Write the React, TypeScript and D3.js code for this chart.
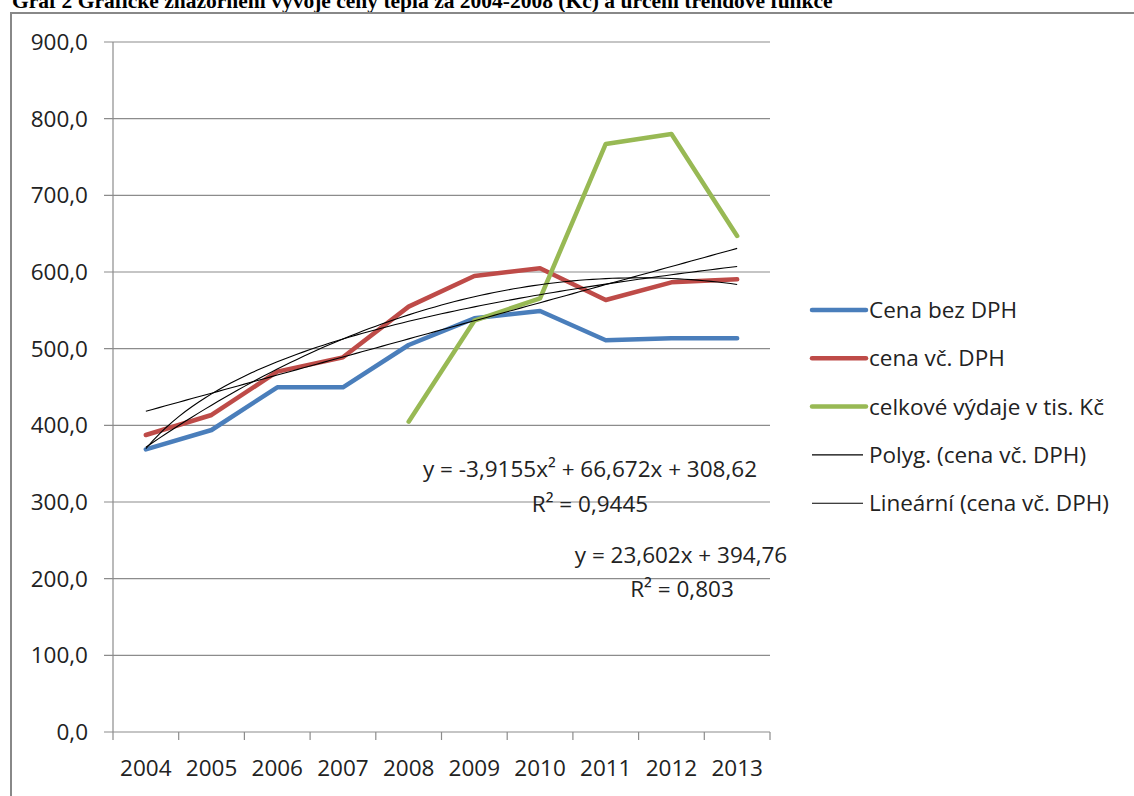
import React from 'react';
import * as d3 from 'd3';

const years = ['2004', '2005', '2006', '2007', '2008', '2009', '2010', '2011', '2012', '2013'];
const cenaBezDPH = [368.7, 393.9, 449.6, 449.6, 504.8, 539.6, 549.1, 510.9, 513.5, 513.5];
const cenaVcDPH = [387.4, 413.5, 470.0, 488.7, 554.8, 594.8, 604.8, 563.5, 586.5, 590.4];
const celkoveVydaje: (number | null)[] = [null, null, null, null, 404.8, 536.5, 565.7, 767.0, 780.0, 647.0];
const yTicks = [0, 100, 200, 300, 400, 500, 600, 700, 800, 900];
const polyCoef = [-3.9155, 66.672, 308.62];
const linCoef = [23.602, 394.76];
const polyLabel = ['y = -3,9155x² + 66,672x + 308,62', 'R² = 0,9445'];
const linLabel = ['y = 23,602x + 394,76', 'R² = 0,803'];
const legendNames = ['Cena bez DPH', 'cena vč. DPH', 'celkové výdaje v tis. Kč', 'Polyg. (cena vč. DPH)', 'Lineární (cena vč. DPH)'];
const title = 'Graf 2  Grafické znázornění vývoje ceny tepla za 2004-2008 (Kč) a určení trendové funkce';

const COLORS = ['#4A7EBB', '#BE4B48', '#98B954', '#000000', '#000000'];
const FONT = "'Open Sans', sans-serif";

// logarithmic least-squares fit on cena vč. DPH
function logFit(vals: number[]) {
  const xs = vals.map((_, i) => Math.log(i + 1));
  const mx = d3.mean(xs)!;
  const my = d3.mean(vals)!;
  let num = 0, den = 0;
  xs.forEach((x, i) => { num += (x - mx) * (vals[i] - my); den += (x - mx) * (x - mx); });
  const a = num / den;
  return { a, b: my - a * mx };
}

export default function App() {
  const left = 113, right = 770, top = 42, bottom = 732;
  const x = d3.scaleBand<string>().domain(years).range([left, right]).padding(0);
  const y = d3.scaleLinear().domain([0, 900]).range([bottom, top]);
  const bw = x.bandwidth();
  const cx = (i: number) => x(years[i])! + bw / 2;

  const line = d3.line<[number, number | null]>()
    .defined(d => d[1] !== null)
    .x(d => d[0])
    .y(d => y(d[1] as number));

  const series = [cenaBezDPH, cenaVcDPH, celkoveVydaje];

  const tSamples = d3.range(1, 10.001, 0.1);
  const tx = (t: number) => cx(0) + (t - 1) * bw;
  const lf = logFit(cenaVcDPH);
  const trendFns = [
    (t: number) => polyCoef[0] * t * t + polyCoef[1] * t + polyCoef[2],
    (t: number) => linCoef[0] * t + linCoef[1],
    (t: number) => lf.a * Math.log(t) + lf.b,
  ];

  const legendY0 = 310, legendStep = 48.3;

  return (
    <svg width={1134} height={796} style={{ position: 'absolute', left: 0, top: 0, background: '#fff' }}>
      <rect x={0} y={0} width={1134} height={796} fill="#fff" />
      <text x={12} y={8} fontFamily="'Liberation Serif', 'Times New Roman', serif" fontWeight="bold" fontSize={21.5} fill="#000">{title}</text>
      <path d={`M11,796 V13 H1134`} fill="none" stroke="#888" strokeWidth={2} />

      {/* grid */}
      {yTicks.map(v => (
        <g key={v}>
          <line x1={left - 9} x2={right} y1={y(v)} y2={y(v)} stroke="#8c8c8c" strokeWidth={1.2} />
          <text x={88} y={y(v) + 8} textAnchor="end" fontFamily={FONT} fontSize={22.5} fill="#222">{d3.format('.1f')(v).replace('.', ',')}</text>
        </g>
      ))}
      <line x1={left} x2={left} y1={top} y2={bottom} stroke="#8c8c8c" strokeWidth={1.2} />
      {d3.range(years.length + 1).map(i => (
        <line key={i} x1={left + i * bw} x2={left + i * bw} y1={bottom} y2={bottom + 8} stroke="#8c8c8c" strokeWidth={1.2} />
      ))}
      {years.map((yr, i) => (
        <text key={yr} x={cx(i)} y={bottom + 44} textAnchor="middle" fontFamily={FONT} fontSize={22.5} fill="#222">{yr}</text>
      ))}

      {/* series */}
      {series.map((s, k) => (
        <path key={k} d={line(s.map((v, i) => [cx(i), v]))!} fill="none" stroke={COLORS[k]} strokeWidth={4.5} strokeLinejoin="round" strokeLinecap="round" />
      ))}

      {/* trend lines */}
      {trendFns.map((f, k) => (
        <path key={k} d={d3.line<number>().x(t => tx(t)).y(t => y(f(t)))(tSamples)!} fill="none" stroke="#000" strokeWidth={1.1} />
      ))}

      {/* equations */}
      <g fontFamily={FONT} fontSize={22.5} fill="#222" textAnchor="middle">
        <text x={590} y={477}>{polyLabel[0]}</text>
        <text x={590} y={512}>{polyLabel[1]}</text>
        <text x={681} y={563}>{linLabel[0]}</text>
        <text x={682} y={597}>{linLabel[1]}</text>
      </g>

      {/* legend */}
      {legendNames.map((n, i) => (
        <g key={n}>
          <line x1={812} x2={i < 3 ? 866 : 863} y1={legendY0 + i * legendStep} y2={legendY0 + i * legendStep}
            stroke={COLORS[i]} strokeWidth={i < 3 ? 4.5 : 1.1} strokeLinecap={i < 3 ? 'round' : 'butt'} />
          <text x={869} y={legendY0 + i * legendStep + 8} fontFamily={FONT} fontSize={22.5} fill="#222">{n}</text>
        </g>
      ))}
    </svg>
  );
}
